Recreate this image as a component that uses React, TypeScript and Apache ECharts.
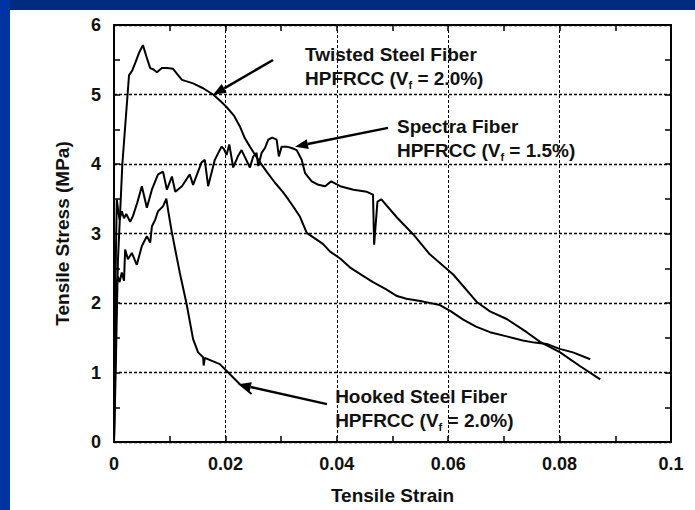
import React, { useEffect, useRef } from "react";
import * as echarts from "echarts";

// ---------- axis ticks ----------
const xTickValues = [0, 0.02, 0.04, 0.06, 0.08, 0.1];
const yTickValues = [0, 1, 2, 3, 4, 5, 6];

// ---------- Twisted steel fiber HPFRCC (Vf = 2.0%) ----------
const twistedStrain = [
  0, 0.0003, 0.0007, 0.0015, 0.0027, 0.0029, 0.0033, 0.0038, 0.0045, 0.0052,
  0.0058, 0.0065, 0.0071, 0.0077, 0.0086, 0.0095, 0.0106, 0.0115, 0.0122, 0.0142,
  0.016, 0.0178, 0.0192, 0.0202, 0.0215, 0.0226, 0.0235, 0.0244, 0.0259, 0.0275,
  0.0289, 0.0303, 0.0313, 0.0325, 0.0334, 0.0346, 0.0375, 0.0388, 0.0406, 0.0424,
  0.0445, 0.0465, 0.0488, 0.0508, 0.0525, 0.0555, 0.0585, 0.0605, 0.0627, 0.065,
  0.0675, 0.0705, 0.0734, 0.0755, 0.0777, 0.08, 0.0824, 0.0855,
];
const twistedStress = [
  0, 1.0, 2.6, 4.0, 5.28, 5.3, 5.35, 5.45, 5.6, 5.71,
  5.55, 5.38, 5.36, 5.32, 5.38, 5.38, 5.37, 5.28, 5.21, 5.16,
  5.09, 5.0, 4.9, 4.82, 4.7, 4.54, 4.37, 4.25, 4.06, 3.88,
  3.73, 3.6, 3.49, 3.35, 3.24, 3.01, 2.85, 2.74, 2.64, 2.51,
  2.4, 2.3, 2.2, 2.1, 2.06, 2.02, 1.97, 1.88, 1.76, 1.66,
  1.58, 1.52, 1.46, 1.43, 1.41, 1.34, 1.29, 1.19,
];

// ---------- Spectra fiber HPFRCC (Vf = 1.5%) ----------
const spectraStrain = [
  0, 0.0002, 0.0004, 0.0005, 0.0008, 0.001, 0.0014, 0.0018, 0.0022, 0.0029,
  0.0034, 0.0042, 0.005, 0.0059, 0.0068, 0.0079, 0.0088, 0.0095, 0.0104, 0.011,
  0.0122, 0.0136, 0.0142, 0.0157, 0.0163, 0.0169, 0.0181, 0.0193, 0.0197, 0.0202,
  0.0207, 0.0214, 0.0223, 0.0229, 0.0244, 0.025, 0.0256, 0.0259, 0.0265, 0.0271,
  0.0277, 0.0284, 0.0292, 0.0296, 0.0301, 0.031, 0.0319, 0.0328, 0.0337, 0.0343,
  0.0355, 0.0367, 0.0379, 0.039, 0.0406, 0.043, 0.0454, 0.0465, 0.0467, 0.0473,
  0.048, 0.0508, 0.0537, 0.0567, 0.0609, 0.0652, 0.0675, 0.0705, 0.0741, 0.0765,
  0.0801, 0.0837, 0.0873,
];
const spectraStress = [
  0, 2.0, 3.0, 3.49, 3.3, 3.2, 3.32, 3.22, 3.28, 3.17,
  3.25, 3.45, 3.68, 3.37, 3.63, 3.85, 3.89, 3.63, 3.82, 3.6,
  3.68, 3.85, 3.7, 4.02, 4.06, 3.68, 4.06, 4.25, 4.22, 4.13,
  4.28, 3.95, 4.12, 4.2, 3.95, 4.11, 4.16, 3.97, 4.16, 4.23,
  4.35, 4.38, 4.35, 4.11, 4.25, 4.25, 4.23, 4.2, 4.06, 3.87,
  3.75, 3.7, 3.68, 3.75, 3.68, 3.63, 3.6, 3.56, 2.84, 3.46,
  3.49, 3.23, 2.99, 2.7, 2.41, 2.01, 1.88, 1.77, 1.58, 1.44,
  1.29, 1.09, 0.9,
];

// ---------- Hooked steel fiber HPFRCC (Vf = 2.0%) ----------
const hookedStrain = [
  0, 0.0003, 0.0005, 0.0007, 0.001, 0.0014, 0.0018, 0.002, 0.0025, 0.0032,
  0.0041, 0.005, 0.0059, 0.0065, 0.0068, 0.0074, 0.0079, 0.0088, 0.0094, 0.0097,
  0.0104, 0.0118, 0.013, 0.0142, 0.0151, 0.016, 0.0161, 0.0163, 0.0178, 0.019,
  0.0205, 0.0226, 0.0247,
];
const hookedStress = [
  0, 1.5, 2.3, 2.38, 2.3, 2.44, 2.32, 2.77, 2.63, 2.72,
  2.55, 2.82, 2.96, 2.87, 3.1, 3.2, 3.32, 3.39, 3.5, 3.34,
  3.01, 2.44, 2.0, 1.48, 1.29, 1.22, 1.1, 1.21, 1.16, 1.12,
  1.0, 0.83, 0.69,
];

// ---------- annotation labels ----------
const labelTexts = [
  ["Twisted Steel Fiber", "HPFRCC (V{sub|f} = 2.0%)"],
  ["Spectra Fiber", "HPFRCC (V{sub|f} = 1.5%)"],
  ["Hooked Steel Fiber", "HPFRCC (V{sub|f} = 2.0%)"],
];
// [strain, stress] of label top-left, arrow tail, arrow head
const labelAnchors = [
  [0.0343, 5.745],
  [0.0508, 4.715],
  [0.0397, 0.825],
];
const arrowTails = [
  [0.02855, 5.497],
  [0.0492, 4.52],
  [0.03824, 0.545],
];
const arrowHeads = [
  [0.01777, 4.995],
  [0.0325, 4.25],
  [0.02226, 0.832],
];

const FONT = "'Liberation Sans', Arial, Helvetica, sans-serif";

function zip(xs: number[], ys: number[]) {
  return xs.map((x, i) => [x, ys[i]]);
}

export default function App() {
  const ref = useRef<HTMLDivElement>(null);

  useEffect(() => {
    const el = ref.current;
    if (!el) return;
    const chart = echarts.init(el, undefined, { renderer: "svg" });

    const baseAxisLine = { show: true, onZero: false, lineStyle: { color: "#000", width: 2 } };
    const tick = { show: true, inside: true, length: 6, lineStyle: { color: "#000", width: 1.5 } };
    const minor = { show: true, splitNumber: 2, length: 6, lineStyle: { color: "#000", width: 1.5 } };

    const lineSeries = (name: string, xs: number[], ys: number[]) => ({
      name,
      type: "line",
      data: zip(xs, ys),
      showSymbol: false,
      symbol: "none",
      lineStyle: { color: "#000", width: 2 },
      z: 3,
    });

    chart.setOption({
      animation: false,
      backgroundColor: "#ffffff",
      grid: { left: 114, right: 24, top: 25, bottom: 67 },
      xAxis: [
        {
          type: "value",
          min: xTickValues[0],
          max: xTickValues[xTickValues.length - 1],
          interval: 0.02,
          name: "Tensile Strain",
          nameLocation: "middle",
          nameGap: 44,
          nameTextStyle: { color: "#111", fontSize: 19, fontWeight: "bold", fontFamily: FONT },
          axisLine: baseAxisLine,
          axisTick: tick,
          minorTick: minor,
          axisLabel: {
            color: "#111",
            fontSize: 18,
            fontWeight: "bold",
            fontFamily: FONT,
            margin: 13,
            formatter: (v: number) => String(+v.toFixed(2)),
          },
          splitLine: { show: true, lineStyle: { color: "#000", width: 1, type: [3, 2] } },
        },
        {
          type: "value",
          position: "top",
          min: xTickValues[0],
          max: xTickValues[xTickValues.length - 1],
          interval: 0.02,
          axisLine: baseAxisLine,
          axisTick: tick,
          minorTick: minor,
          axisLabel: { show: false },
          splitLine: { show: false },
        },
      ],
      yAxis: [
        {
          type: "value",
          min: yTickValues[0],
          max: yTickValues[yTickValues.length - 1],
          interval: 1,
          name: "Tensile Stress (MPa)",
          nameLocation: "middle",
          nameGap: 42,
          nameTextStyle: { color: "#111", fontSize: 19, fontWeight: "bold", fontFamily: FONT },
          axisLine: baseAxisLine,
          axisTick: tick,
          minorTick: minor,
          axisLabel: {
            color: "#111",
            fontSize: 18,
            fontWeight: "bold",
            fontFamily: FONT,
            margin: 13,
          },
          splitLine: { show: true, lineStyle: { color: "#000", width: 1.4, type: [3, 2] } },
        },
        {
          type: "value",
          position: "right",
          min: yTickValues[0],
          max: yTickValues[yTickValues.length - 1],
          interval: 1,
          axisLine: baseAxisLine,
          axisTick: tick,
          minorTick: minor,
          axisLabel: { show: false },
          splitLine: { show: false },
        },
      ],
      series: [
        lineSeries("Twisted Steel Fiber", twistedStrain, twistedStress),
        lineSeries("Spectra Fiber", spectraStrain, spectraStress),
        lineSeries("Hooked Steel Fiber", hookedStrain, hookedStress),
      ],
    });

    const toPx = (p: number[]) => chart.convertToPixel({ gridIndex: 0 }, p) as number[];

    const graphics: any[] = [
      { type: "rect", shape: { x: 0, y: 0, width: 695, height: 10 }, style: { fill: "#002b80" }, z: 100 },
      { type: "rect", shape: { x: 0, y: 0, width: 10, height: 510 }, style: { fill: "#0034a2" }, z: 101 },
    ];

    labelTexts.forEach((lines, i) => {
      const a = toPx(labelAnchors[i]);
      graphics.push({
        type: "text",
        x: a[0],
        y: a[1],
        z: 50,
        style: {
          text: lines.join("\n"),
          fill: "#111",
          fontSize: 19,
          fontWeight: "bold",
          fontFamily: FONT,
          lineHeight: 24,
          rich: {
            sub: { fontSize: 11, fontWeight: "bold", fontFamily: FONT, fill: "#111", verticalAlign: "bottom", lineHeight: 24, padding: [0, 0, 0, 0] },
          },
        },
      });
      const t = toPx(arrowTails[i]);
      const h = toPx(arrowHeads[i]);
      const dx = h[0] - t[0];
      const dy = h[1] - t[1];
      const len = Math.sqrt(dx * dx + dy * dy);
      const ux = dx / len;
      const uy = dy / len;
      const headLen = 13;
      const headHalf = 5;
      const bx = h[0] - ux * headLen;
      const by = h[1] - uy * headLen;
      graphics.push({
        type: "line",
        z: 50,
        shape: { x1: t[0], y1: t[1], x2: bx, y2: by },
        style: { stroke: "#000", lineWidth: 2.5 },
      });
      graphics.push({
        type: "polygon",
        z: 50,
        shape: {
          points: [
            [h[0], h[1]],
            [bx - uy * headHalf, by + ux * headHalf],
            [bx + uy * headHalf, by - ux * headHalf],
          ],
        },
        style: { fill: "#000" },
      });
    });

    chart.setOption({ graphic: graphics });

    return () => chart.dispose();
  }, []);

  return (
    <div
      ref={ref}
      style={{ position: "absolute", left: 0, top: 0, width: 695, height: 510 }}
    />
  );
}
